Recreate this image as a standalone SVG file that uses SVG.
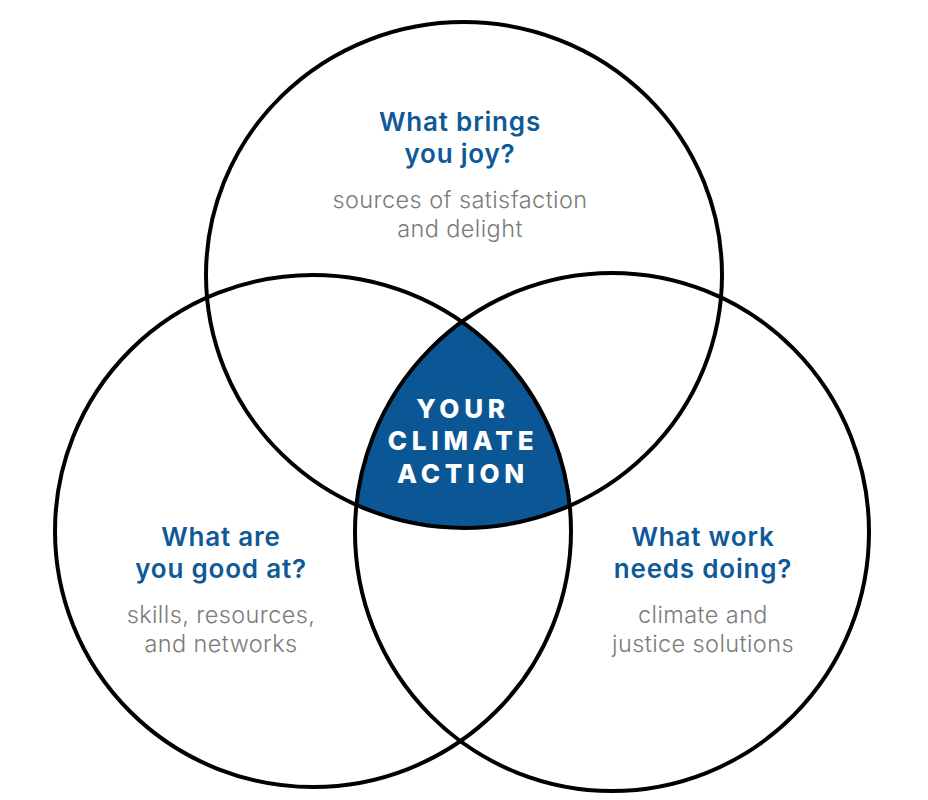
<svg xmlns="http://www.w3.org/2000/svg" width="928" height="800" viewBox="0 0 928 800">
  <style>
    .ring { fill: none; stroke: #000; stroke-width: 4; }
    .head { font-family: Inter, "Liberation Sans", sans-serif; font-weight: 600; font-size: 26px; fill: #0e5a97; text-anchor: middle; letter-spacing: 0.8px; }
    .sub { font-family: Inter, "Liberation Sans", sans-serif; font-weight: 300; font-size: 23.5px; fill: #7b7b7b; text-anchor: middle; letter-spacing: 0.4px; }
    .core { font-family: Inter, "Liberation Sans", sans-serif; font-weight: 800; font-size: 26px; fill: #ffffff; text-anchor: middle; letter-spacing: 4.8px; }
  </style>
  <defs>
    <clipPath id="clipLeft"><ellipse cx="313" cy="531" rx="258" ry="256"/></clipPath>
    <clipPath id="clipRight"><ellipse cx="612" cy="532" rx="257" ry="259"/></clipPath>
  </defs>
  <rect width="928" height="800" fill="#ffffff"/>

  <g id="center">
    <g clip-path="url(#clipLeft)">
      <g clip-path="url(#clipRight)">
        <ellipse cx="464" cy="275" rx="258" ry="253" fill="#0b5695"/>
      </g>
    </g>
  </g>

  <g id="circle-joy">
    <ellipse class="ring" cx="464" cy="275" rx="258" ry="253"/>
    <text class="head"><tspan x="460" y="131">What brings</tspan><tspan x="460" y="163">you joy?</tspan></text>
    <text class="sub"><tspan x="460" y="208">sources of satisfaction</tspan><tspan x="460" y="237">and delight</tspan></text>
  </g>

  <g id="circle-good">
    <ellipse class="ring" cx="313" cy="531" rx="258" ry="256"/>
    <text class="head"><tspan x="221" y="546">What are</tspan><tspan x="221" y="578">you good at?</tspan></text>
    <text class="sub"><tspan x="221" y="623">skills, resources,</tspan><tspan x="221" y="652">and networks</tspan></text>
  </g>

  <g id="circle-work">
    <ellipse class="ring" cx="612" cy="532" rx="257" ry="259"/>
    <text class="head"><tspan x="703" y="546">What work</tspan><tspan x="703" y="578">needs doing?</tspan></text>
    <text class="sub"><tspan x="703" y="623">climate and</tspan><tspan x="703" y="652">justice solutions</tspan></text>
  </g>

  <g id="center-label">
    <text class="core"><tspan x="463" y="418">YOUR</tspan><tspan x="463" y="450">CLIMATE</tspan><tspan x="463" y="483">ACTION</tspan></text>
  </g>
</svg>
